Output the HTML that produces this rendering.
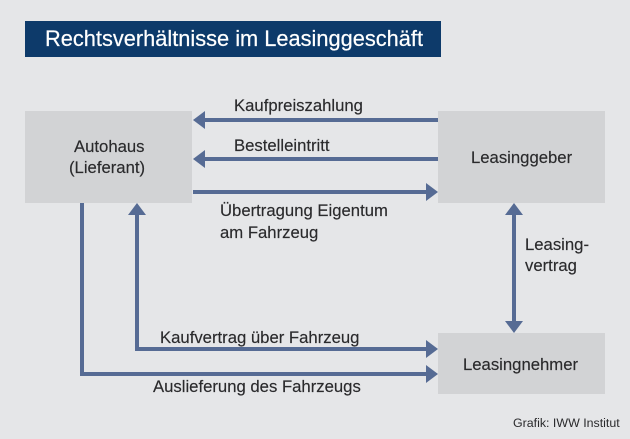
<!DOCTYPE html>
<html><head><meta charset="utf-8"><style>
html,body{margin:0;padding:0}
body{width:630px;height:439px;background:#e5e6e8;position:relative;overflow:hidden;font-family:"Liberation Sans",sans-serif;color:#2a2a2c}
.t{position:absolute;white-space:nowrap;font-size:16.7px;line-height:20px;-webkit-text-stroke:0.15px #2a2a2c}
.box{position:absolute;background:#d2d3d5}
</style></head><body>
<div style="position:absolute;left:25px;top:21px;width:416px;height:36px;background:#0d3a6a"></div>
<div class="t" style="left:45px;top:26px;color:#fff;-webkit-text-stroke:0.2px #fff;font-size:21.8px;line-height:26px">Rechtsverhältnisse im Leasinggeschäft</div>
<div class="box" style="left:25px;top:111px;width:167px;height:92px"></div>
<div class="box" style="left:438px;top:111px;width:167px;height:92px"></div>
<div class="box" style="left:438px;top:333px;width:167px;height:61px"></div>
<svg width="630" height="439" style="position:absolute;left:0;top:0" fill="#566b94" stroke="none">
<g stroke="#566b94" stroke-width="4" fill="none">
<line x1="438" y1="120" x2="204" y2="120"/>
<line x1="438" y1="159" x2="204" y2="159"/>
<line x1="193" y1="192" x2="427" y2="192"/>
<polyline points="82,203 82,374 427,374"/>
<polyline points="137,214 137,349 427,349"/>
<line x1="514" y1="214" x2="514" y2="322"/>
</g>
<polygon points="193,120 205,111 205,129"/>
<polygon points="193,159 205,150 205,168"/>
<polygon points="438,192 426,183 426,201"/>
<polygon points="438,374 426,365 426,383"/>
<polygon points="438,349 426,340 426,358"/>
<polygon points="137,203 128,215 146,215"/>
<polygon points="514,203 505,215 523,215"/>
<polygon points="514,333 505,321 523,321"/>
</svg>
<div class="t" style="left:74px;top:137px">Autohaus</div>
<div class="t" style="left:69px;top:158px">(Lieferant)</div>
<div class="t" style="left:471px;top:148px">Leasinggeber</div>
<div class="t" style="left:463px;top:355px">Leasingnehmer</div>
<div class="t" style="left:234px;top:96px">Kaufpreiszahlung</div>
<div class="t" style="left:234px;top:136px">Bestelleintritt</div>
<div class="t" style="left:220px;top:201px">Übertragung Eigentum</div>
<div class="t" style="left:220px;top:223px">am Fahrzeug</div>
<div class="t" style="left:525px;top:235px">Leasing-</div>
<div class="t" style="left:525px;top:256px">vertrag</div>
<div class="t" style="left:160px;top:328px">Kaufvertrag über Fahrzeug</div>
<div class="t" style="left:153px;top:377px">Auslieferung des Fahrzeugs</div>
<div class="t" style="left:513px;top:416px;font-size:12.4px;line-height:14px;-webkit-text-stroke:0">Grafik: IWW Institut</div>
</body></html>
